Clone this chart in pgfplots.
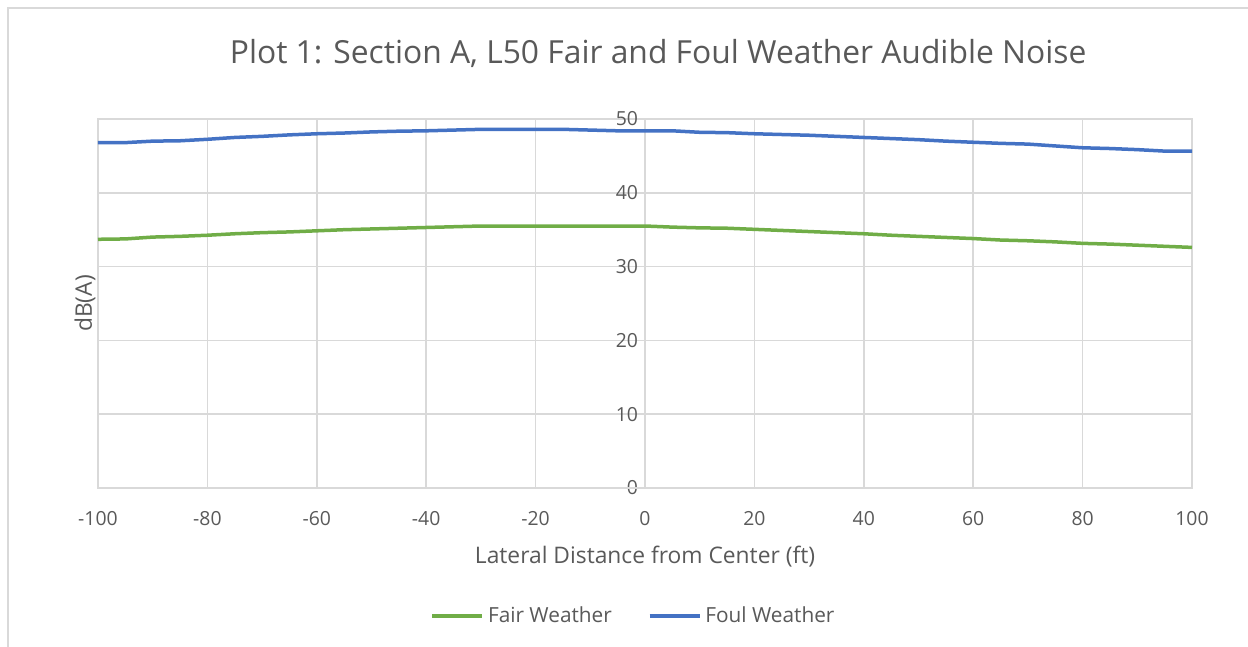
\documentclass[border=0pt]{standalone}
\usepackage{pgfplots}
\pgfplotsset{compat=1.18}
\usepackage{fontspec}
\setmainfont{Open Sans}
\definecolor{txt}{HTML}{595959}
\definecolor{gridc}{HTML}{D9D9D9}
\definecolor{axc}{HTML}{BFBFBF}
\definecolor{fair}{HTML}{70AD47}
\definecolor{foul}{HTML}{4472C4}
\begin{document}
\begin{tikzpicture}
\path[use as bounding box] (0,0) rectangle (624pt,323.5pt);
\draw[gridc, line width=0.7pt] (4pt,0) -- (4pt,319.5pt) -- (624pt,319.5pt);
\begin{axis}[
  at={(49pt,79.5pt)}, anchor=south west,
  scale only axis, width=547pt, height=184.5pt,
  xmin=-100, xmax=100, ymin=0, ymax=50,
  xtick={-100,-80,...,100}, ytick={0,10,...,50},
  major tick length=0pt,
  grid=major, major grid style={gridc, line width=0.75pt},
  axis line style={draw=gridc, line width=0.75pt},
  extra x ticks={0}, extra x tick labels={},
  extra x tick style={grid style={axc, line width=0.9pt}},
  extra y ticks={0}, extra y tick labels={},
  extra y tick style={grid style={axc, line width=0.9pt}},
  /pgf/number format/assume math mode=true,
  tick label style={font=\fontsize{9.7}{11}\selectfont, text=txt},
  xticklabel style={yshift=-8pt},
  yticklabel style={xshift=273.5pt, anchor=east},
  xlabel={Lateral Distance from Center (ft)},
  ylabel={dB(A)},
  label style={font=\fontsize{11.4}{13}\selectfont, text=txt},
  xlabel style={at={(axis description cs:0.5,-0.187)}, anchor=center},
  ylabel style={at={(axis description cs:-0.0119,0.5)}, anchor=center},
  title={Plot 1: Section A, L50 Fair and Foul Weather Audible Noise},
  title style={font=\fontsize{15.9}{18}\selectfont, text=txt, at={(axis description cs:0.512,1.144)}, anchor=center, yshift=0pt},
  legend style={at={(axis description cs:0.4904,-0.347)}, anchor=center, draw=none,
    font=\fontsize{10.4}{12}\selectfont, text=txt, legend columns=2,
    /tikz/every even column/.append style={column sep=16pt}},
  legend image code/.code={\draw[#1, line width=1.75pt] (0pt,0pt) -- (25pt,0pt);},
]
\addplot[fair, line width=1.75pt] coordinates {
(-100,33.7) (-95,33.75) (-90,34.0) (-85,34.1) (-80,34.25) (-75,34.45) (-70,34.6) (-65,34.7) (-60,34.85) (-55,35.0) (-50,35.1) (-45,35.2) (-40,35.3) (-35,35.4) (-30,35.5) (-25,35.5) (-20,35.5) (-15,35.5) (-10,35.5) (-5,35.5) (0,35.5) (5,35.35) (10,35.25) (15,35.2) (20,35.05) (25,34.9) (30,34.75) (35,34.6) (40,34.45) (45,34.25) (50,34.1) (55,33.95) (60,33.8) (65,33.6) (70,33.5) (75,33.35) (80,33.15) (85,33.05) (90,32.9) (95,32.75) (100,32.6)
};
\addlegendentry{Fair Weather}
\addplot[foul, line width=1.75pt] coordinates {
(-100,46.8) (-95,46.8) (-90,47.0) (-85,47.05) (-80,47.25) (-75,47.5) (-70,47.65) (-65,47.85) (-60,48.0) (-55,48.1) (-50,48.25) (-45,48.35) (-40,48.4) (-35,48.5) (-30,48.6) (-25,48.6) (-20,48.6) (-15,48.6) (-10,48.5) (-5,48.4) (0,48.4) (5,48.4) (10,48.2) (15,48.15) (20,48.0) (25,47.9) (30,47.8) (35,47.65) (40,47.5) (45,47.35) (50,47.2) (55,47.0) (60,46.85) (65,46.7) (70,46.6) (75,46.35) (80,46.1) (85,46.0) (90,45.85) (95,45.65) (100,45.65)
};
\addlegendentry{Foul Weather}
\end{axis}
\end{tikzpicture}
\end{document}
